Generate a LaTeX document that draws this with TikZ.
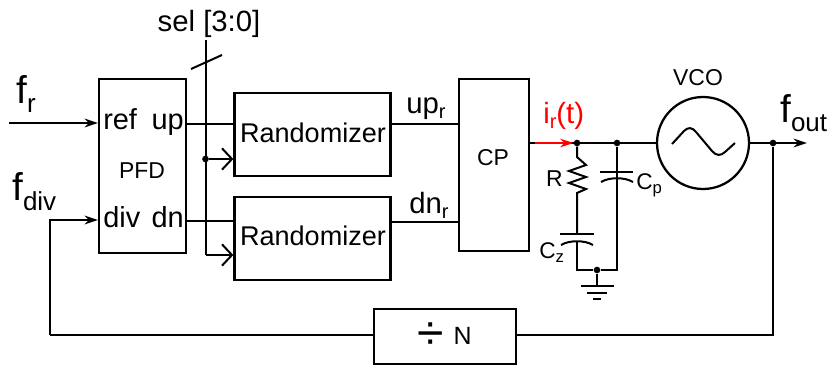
\documentclass[tikz,border=0pt]{standalone}
\usepackage{fontspec}
\setmainfont{Liberation Sans}
\usetikzlibrary{arrows.meta}
\newcommand{\subtext}[5]{{\fontsize{#1}{#1}\selectfont #3}{\raisebox{#4}{\fontsize{#2}{#1}\selectfont #5}}}
\tikzstyle{bloque} = [rectangle, draw=black, line width=1.7pt, minimum width=0pt, inner sep=0pt]
\tikzstyle{rotulo} = [inner sep=0pt, anchor=base, font=\fontsize{20.3}{24}\selectfont]
\tikzstyle{puerto} = [inner sep=0pt, anchor=base, font=\fontsize{21.7}{24}\selectfont]
\tikzstyle{rotulochico} = [inner sep=0pt, anchor=base, font=\fontsize{17.2}{20}\selectfont]
\tikzstyle{cable} = [line width=1.5pt]
\tikzstyle{arrow} = [line width=1.5pt,-{Stealth[length=10pt,width=6.5pt]}]
\tikzstyle{abierta} = [line width=1.5pt,-{Straight Barb[length=7.5pt,width=16pt]}]
\tikzstyle{punto} = [circle, fill=black, inner sep=0pt, minimum size=5pt]
\begin{document}
\begin{tikzpicture}[x=0.75pt,y=-0.75pt,node distance=78pt]
    	\useasboundingbox (0,0) rectangle (830,364);
    	% Cuadros
    	\node (pfd) [bloque,minimum width=65.25pt,minimum height=130.5pt] at (142.5,166) {};
    	\node (rand1) [bloque,minimum width=117pt,minimum height=62.25pt] at (312.5,134.5) {};
    	\node (rand2) [bloque,minimum width=117pt,minimum height=62.25pt,below of=rand1] {};
    	\node (cp) [bloque,minimum width=52.5pt,minimum height=129pt] at (494,165) {};
    	\node (divn) [bloque,minimum width=106.5pt,minimum height=41.5pt] at (445,336.5) {};
    	\node (vco) [circle,draw=black,line width=1.7pt,minimum size=69pt,inner sep=0pt] at (703,143) {};
    	% Textos
    	\node (ref) [puerto,anchor=base west] at (103,129) {ref};
    	\node (up) [puerto,anchor=base east] at (184,129) {up};
    	\node (pfdtxt) [rotulochico] at (142,178) {PFD};
    	\node (div) [puerto,anchor=base west] at (103,227) {div};
    	\node (dn) [puerto,anchor=base east] at (184,227) {dn};
    	\node (randtxt1) [rotulo] at (313,142) {Randomizer};
    	\node (randtxt2) [rotulo] at (313,245) {Randomizer};
    	\node (cptxt) [rotulochico] at (493,165) {CP};
    	\node (vcotxt) [rotulochico] at (698,85) {VCO};
    	\node (seltxt) [rotulo,font=\fontsize{22}{26}\selectfont] at (209,31) {sel [3:0]};
    	\node (fr) [rotulo,anchor=base west] at (16,103) {\subtext{29}{19.5}{f}{-7pt}{r}};
    	\node (fdiv) [rotulo,anchor=base west] at (12,200) {\subtext{29}{19.5}{f}{-7.5pt}{div}};
    	\node (fout) [rotulo,anchor=base west] at (780,122) {\subtext{29}{19.5}{f}{-7pt}{out}};
    	\node (upr) [rotulo,anchor=base west] at (406,113) {\subtext{22}{15}{up}{-4pt}{r}};
    	\node (dnr) [rotulo,anchor=base west] at (409,213) {\subtext{22}{15}{dn}{-4pt}{r}};
    	\node (ir) [rotulo,anchor=base west,text=red] at (543,123) {\subtext{22}{15}{i}{-4pt}{r}{\fontsize{22}{24}\selectfont (t)}};
    	\node (rtxt) [rotulochico,anchor=base east] at (563,186) {R};
    	\node (cptxt2) [rotulochico,anchor=base west] at (636,189) {\subtext{17}{12.5}{C}{-3.5pt}{p}};
    	\node (cztxt) [rotulochico,anchor=base west] at (539,258) {\subtext{17}{12.5}{C}{-3pt}{z}};
    	\node (divsim) [rotulo,anchor=center,font=\fontsize{36}{36}\selectfont] at (431,336) {÷};
    	\node (ntxt) [rotulochico,anchor=base,font=\fontsize{18.7}{20}\selectfont] at (462.5,344) {N};
    	% Puntos
    	\coordinate (frin) at (9,123);
    	\coordinate (pfdref) at (98,123);
    	\coordinate (pfddiv) at (98,220);
    	\coordinate (pfdup) at (pfd.east |- 0,124);
    	\coordinate (pfddn) at (pfd.east |- 0,221);
    	\coordinate (seltop) at (205.5,40);
    	\coordinate (selbot) at (205.5,255);
    	\coordinate (barra1) at (191,69);
    	\coordinate (barra2) at (222,55);
    	\coordinate (retorno) at (50,335);
    	\coordinate (foutend) at (807,143);
    	\node (nsel) [punto] at (205.5,159) {};
    	\node (nr) [punto] at (577,143) {};
    	\node (ncp) [punto] at (617,143) {};
    	\node (nout) [punto] at (773,143) {};
    	\node (ngnd) [punto] at (597,270) {};
    	% Flechas
    	\draw[arrow] (frin) -- (pfdref);
    	\draw[arrow] (retorno) -- (retorno |- pfddiv) -- (pfddiv);
    	\draw[cable] (divn.west |- retorno) -- (retorno);
    	\draw[cable] (pfdup) -- (rand1.west |- pfdup);
    	\draw[cable] (pfddn) -- (rand2.west |- pfddn);
    	\draw[cable] (seltop) -- (selbot);
    	\draw[cable] (barra1) -- (barra2);
    	\draw[abierta] (nsel) -- (rand1.west |- nsel);
    	\draw[abierta] (selbot) -- (rand2.west |- selbot);
    	\draw[cable] (rand1.east |- pfdup) -- (cp.west |- pfdup);
    	\draw[cable] (rand2.east |- 0,222) -- (cp.west |- 0,222);
    	\draw[cable] (cp.east |- nr) -- (vco.west);
    	\draw[arrow] (vco.east) -- (foutend);
    	\draw[cable] (nout) -- (nout |- retorno) -- (divn.east |- retorno);
    	\draw[arrow,red] (535,143) -- (nr);
    	% Filtro
    	\draw[cable,line join=miter] (nr) -- (577,157) -- (586,165) -- (569,171) -- (586,177) -- (569,183) -- (586,189) -- (577,193) -- (577,234);
    	\draw[cable] (560,234) -- (594,234);
    	\draw[cable] (561,245) .. controls (569,240) and (585,240) .. (593,245);
    	\draw[cable] (577,241) -- (577,270) -- (ngnd) -- (617,270) -- (ncp);
    	\draw[cable] (600,172) -- (633,172);
    	\draw[cable] (601,182) .. controls (609,177) and (625,177) .. (633,182);
    	% Tierra
    	\draw[cable] (ngnd) -- (597,286);
    	\draw[cable] (581,286) -- (614,286);
    	\draw[cable] (587,293) -- (607,293);
    	\draw[cable] (593,299) -- (601,299);
    	% Onda
    	\draw[cable] (672,144) -- (684,131) .. controls (688,127) and (692,127) .. (696,132) -- (712,151) .. controls (716,156) and (721,156) .. (725,152) -- (735,143);
\end{tikzpicture}
\end{document}
